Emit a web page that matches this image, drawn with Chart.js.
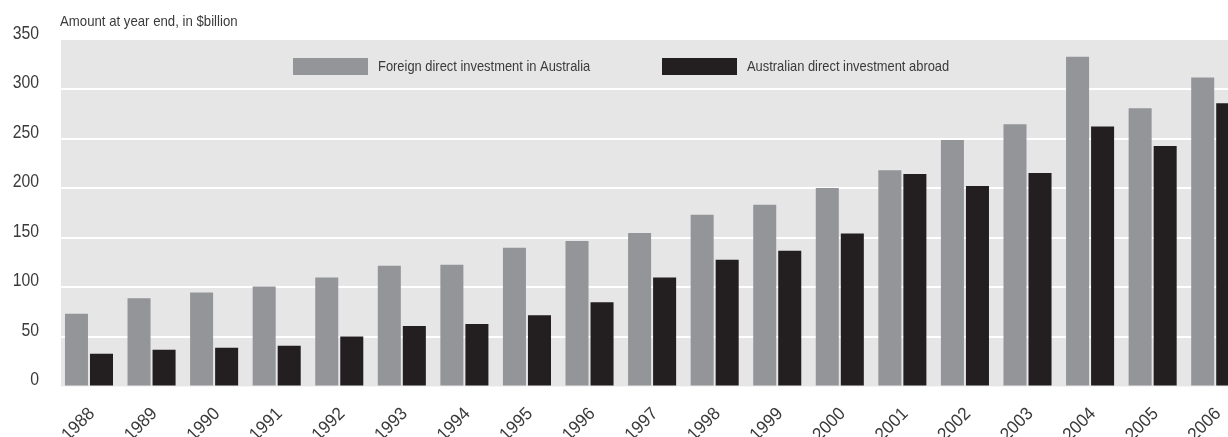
<!DOCTYPE html>
<html>
<head>
<meta charset="utf-8">
<script src="https://cdn.jsdelivr.net/npm/chart.js@4/dist/chart.umd.min.js"></script>
<style>
  html, body { margin: 0; padding: 0; background: #fff; overflow: hidden; }
  #wrap { width: 1250px; height: 437px; }
</style>
</head>
<body>
<div id="wrap"><canvas id="fdiChart" width="1250" height="437"></canvas></div>
<script>
const years = ['1988', '1989', '1990', '1991', '1992', '1993', '1994', '1995', '1996', '1997',
               '1998', '1999', '2000', '2001', '2002', '2003', '2004', '2005', '2006'];
const foreignInAustralia = [73.5, 89, 95, 101, 110, 122, 123, 140, 147, 155,
                            173.5, 183.5, 200.5, 218.5, 249, 265, 333, 281, 312];
const australianAbroad = [33, 37, 39, 41, 50.5, 61, 63, 72, 85, 110,
                          128, 137, 154.5, 214.5, 202.5, 215.5, 262.5, 243, 286];
const yTicks = [0, 50, 100, 150, 200, 250, 300, 350];

const FONT = '"Liberation Sans", Arial, sans-serif';
const TEXT = '#3a3a3a';

// narrow-looking text: squeeze a normal sans horizontally
function narrowText(ctx, str, x, y, size, squeeze, align, angle) {
  ctx.save();
  ctx.translate(x, y);
  if (angle) ctx.rotate(angle);
  ctx.scale(squeeze, 1);
  ctx.font = size + 'px ' + FONT;
  ctx.fillStyle = TEXT;
  ctx.textAlign = align;
  ctx.textBaseline = 'middle';
  ctx.fillText(str, 0, 0);
  ctx.restore();
}

// grey panel behind the bars, title above it, legend inside it, axis labels
const panel = {
  id: 'panel',
  beforeDraw(chart) {
    const { ctx, chartArea } = chart;
    ctx.save();
    ctx.fillStyle = '#e6e6e6';
    ctx.fillRect(61, chartArea.top, chartArea.right - 61, chartArea.bottom - chartArea.top);
    ctx.restore();
    narrowText(ctx, 'Amount at year end, in $billion', 60, 22, 15, 0.88, 'left');
  },
  afterDatasetsDraw(chart) {
    const { ctx } = chart;
    const spots = [293, 662];
    chart.data.datasets.forEach((ds, i) => {
      ctx.fillStyle = ds.backgroundColor;
      ctx.fillRect(spots[i], 58, 75, 17);
      narrowText(ctx, ds.label, spots[i] + 85, 67, 15, 0.86, 'left');
    });
  },
  afterDraw(chart) {
    const { ctx } = chart;
    const ys = chart.scales.y;
    ys.ticks.forEach(t => {
      narrowText(ctx, String(t.value), 39, ys.getPixelForValue(t.value) - 6, 17.5, 0.9, 'right');
    });
    const xs = chart.scales.x;
    xs.ticks.forEach((t, i) => {
      narrowText(ctx, xs.getLabelForValue(t.value), xs.getPixelForTick(i) + 3, 411, 18, 0.95, 'right', -Math.PI / 4);
    });
  }
};

new Chart(document.getElementById('fdiChart'), {
  type: 'bar',
  data: {
    labels: years,
    datasets: [
      { label: 'Foreign direct investment in Australia', data: foreignInAustralia, backgroundColor: '#939598' },
      { label: 'Australian direct investment abroad', data: australianAbroad, backgroundColor: '#231f20' }
    ]
  },
  options: {
    responsive: false,
    animation: false,
    layout: { padding: { top: 40, right: 3.5, left: 0, bottom: 0 } },
    datasets: { bar: { categoryPercentage: 0.8, barPercentage: 0.92 } },
    plugins: { legend: { display: false }, tooltip: { enabled: false } },
    scales: {
      x: {
        grid: { display: false, drawTicks: false },
        border: { display: false },
        afterFit(scale) { scale.height = 50.6; },
        ticks: { display: false }
      },
      y: {
        min: 0,
        max: 350,
        afterFit(scale) { scale.width = 57.7; },
        afterBuildTicks(scale) { scale.ticks = yTicks.map(v => ({ value: v })); },
        grid: {
          drawTicks: false,
          lineWidth: 2,
          color: ctx => (ctx.tick && (ctx.tick.value === 0 || ctx.tick.value === 350)) ? 'rgba(0,0,0,0)' : '#ffffff'
        },
        border: { display: false },
        ticks: { display: false }
      }
    }
  },
  plugins: [panel]
});
</script>
</body>
</html>
